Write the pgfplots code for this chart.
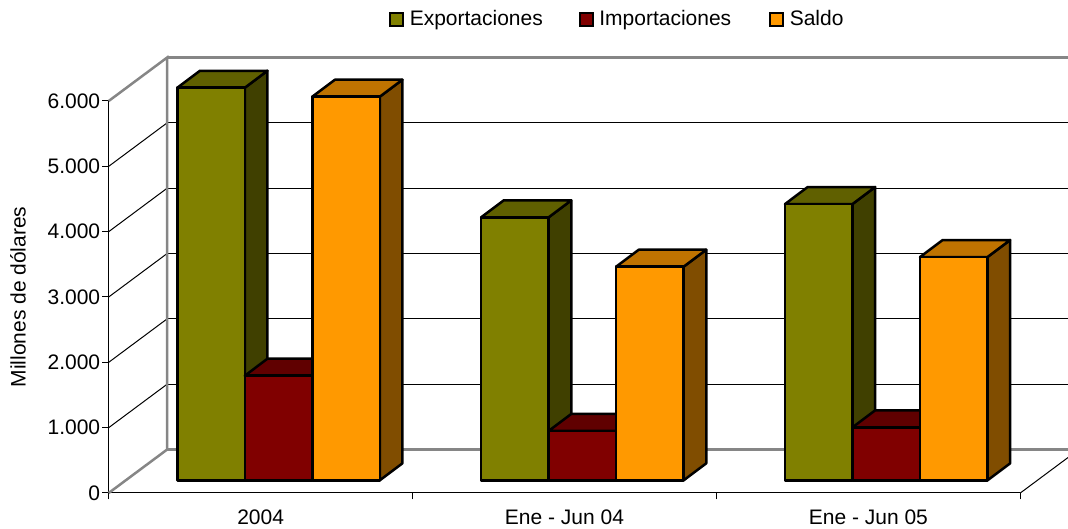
\documentclass[border=0pt]{standalone}
\usepackage{fontspec}
\setmainfont{Liberation Sans}
\usepackage{pgfplots}
\pgfplotsset{compat=1.18}

\definecolor{expf}{HTML}{808000}\definecolor{expt}{HTML}{606000}\definecolor{exps}{HTML}{404000}
\definecolor{impf}{HTML}{800000}\definecolor{impt}{HTML}{600000}\definecolor{imps}{HTML}{400000}
\definecolor{salf}{HTML}{FF9900}\definecolor{salt}{HTML}{BF7300}\definecolor{sals}{HTML}{804D00}
\definecolor{wall}{HTML}{868686}

\newcommand{\chartfont}{\fontsize{21}{24}\selectfont}

% one 3D bar: group, position in group, value, colour prefix
\newcommand{\cube}[4]{%
  \pgfmathsetmacro\xa{0.2258+#1+#2*0.2221}%
  \pgfmathsetmacro\xb{\xa+0.2221}%
  \pgfmathsetmacro\xc{\xa+0.0744}%
  \pgfmathsetmacro\xd{\xb+0.0744}%
  \pgfmathsetmacro\ya{194}%
  \pgfmathsetmacro\yb{#3+194}%
  \pgfmathsetmacro\yc{194+260}%
  \pgfmathsetmacro\yd{#3+194+260}%
  \edef\temp{%
    \noexpand\addplot[barface,fill=#4s] coordinates {(\xb,\ya) (\xd,\yc) (\xd,\yd) (\xb,\yb)} --cycle;
    \noexpand\addplot[barface,fill=#4t] coordinates {(\xa,\yb) (\xc,\yd) (\xd,\yd) (\xb,\yb)} --cycle;
    \noexpand\addplot[barface,fill=#4f] coordinates {(\xa,\ya) (\xa,\yb) (\xb,\yb) (\xb,\ya)} --cycle;
  }\temp
}
\newcommand{\swatch}[1]{%
  \addlegendimage{legend image code/.code={
    \draw[black,line width=2pt,fill=#1] (0pt,-6.5pt) rectangle (13pt,6.5pt);}}%
}

\begin{document}
\begin{tikzpicture}
\useasboundingbox (-108.7pt,-36pt) rectangle (959.3pt,493pt);
\begin{axis}[
    scale only axis,
    width=911.6pt, height=392pt,
    xmin=0, xmax=3, ymin=0, ymax=6000,
    clip=false,
    axis lines=left,
    axis line style={-,black,line width=1pt},
    xtick={0,1,2,3},
    xticklabels={2004,Ene - Jun 04,Ene - Jun 05},
    x tick label as interval,
    ytick={0,1000,2000,3000,4000,5000,6000},
    scaled y ticks=false,
    /pgf/number format/.cd, 1000 sep={.}, assume math mode=true, /pgfplots/.cd,
    tick style={black,line width=1pt},
    major tick length=6.5pt,
    tick align=outside,
    tick label style={font=\chartfont},
    xticklabel style={yshift=-6.5pt},
    yticklabel style={xshift=1.5pt},
    ylabel={Millones de dólares},
    ylabel style={font=\chartfont,yshift=15pt},
    barface/.style={draw=black,line width=2.5pt,line join=round,forget plot,mark=none,sharp plot},
    gridl/.style={black,line width=1pt,forget plot,mark=none},
    walll/.style={wall,line width=2.5pt,forget plot,mark=none},
    legend style={at={(axis cs:1.674,7255)},anchor=center,draw=none,fill=none,
      font=\chartfont,legend columns=3,
      /tikz/column 1/.style={column sep=3.5pt},
      /tikz/column 3/.style={column sep=3.5pt},
      /tikz/column 5/.style={column sep=3.5pt},
      /tikz/column 2/.style={column sep=34pt},
      /tikz/column 4/.style={column sep=36pt}},
    legend cell align=left,
]
\swatch{expf}
\addlegendentry{Exportaciones}
\swatch{impf}
\addlegendentry{Importaciones}
\swatch{salf}
\addlegendentry{Saldo}

% side wall lines from the front axis to the back wall
\addplot[gridl] coordinates {(0,1000) (0.1925,1666)};
\addplot[gridl] coordinates {(0,2000) (0.1925,2666)};
\addplot[gridl] coordinates {(0,3000) (0.1925,3666)};
\addplot[gridl] coordinates {(0,4000) (0.1925,4666)};
\addplot[gridl] coordinates {(0,5000) (0.1925,5666)};
% back wall grid
\addplot[gridl] coordinates {(0.1925,1666) (3.157,1666)};
\addplot[gridl] coordinates {(0.1925,2666) (3.157,2666)};
\addplot[gridl] coordinates {(0.1925,3666) (3.157,3666)};
\addplot[gridl] coordinates {(0.1925,4666) (3.157,4666)};
\addplot[gridl] coordinates {(0.1925,5666) (3.157,5666)};
% wall outline
\addplot[walll] coordinates {(0,0) (0.1925,666) (0.1925,6666) (0,6000)};
\addplot[walll] coordinates {(0.1925,6666) (3.157,6666)};
\addplot[walll] coordinates {(0.1925,666) (3.157,666)};
% floor edge on the right
\addplot[gridl] coordinates {(3,0) (3.157,543)};

\cube{0}{0}{6009}{exp}
\cube{0}{1}{1601}{imp}
\cube{0}{2}{5872}{sal}
\cube{1}{0}{4026}{exp}
\cube{1}{1}{756}{imp}
\cube{1}{2}{3270}{sal}
\cube{2}{0}{4229}{exp}
\cube{2}{1}{811}{imp}
\cube{2}{2}{3418}{sal}
\end{axis}
\end{tikzpicture}
\end{document}
